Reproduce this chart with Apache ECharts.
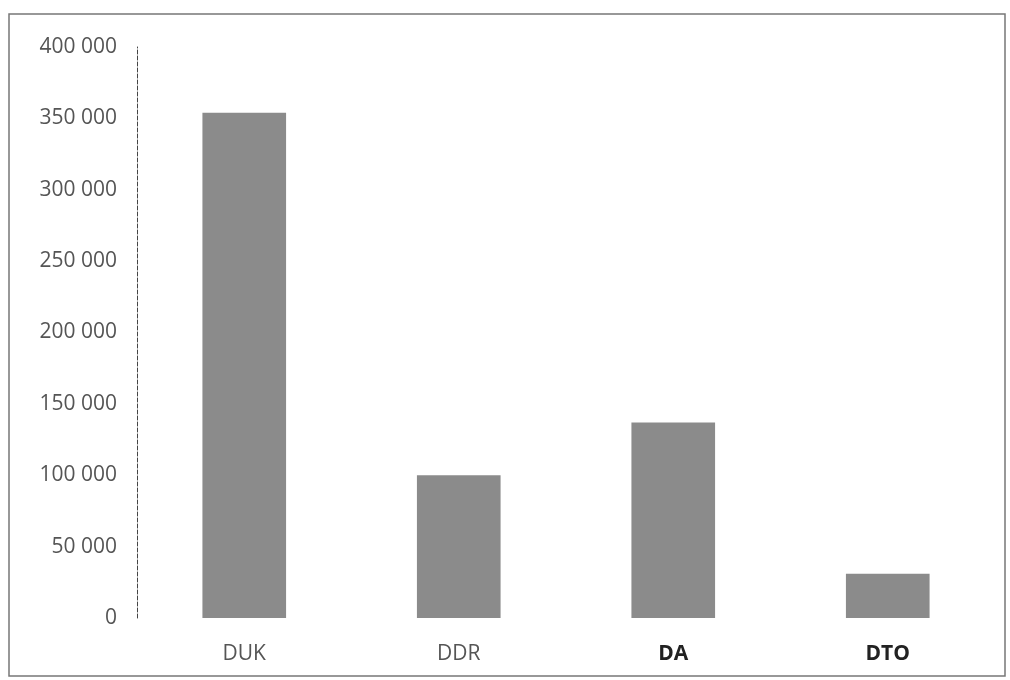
<!DOCTYPE html>
<html>
<head>
<meta charset="utf-8">
<script src="https://cdn.jsdelivr.net/npm/echarts@6/dist/echarts.min.js"></script>
<style>html,body{margin:0;padding:0;background:#fff}#c{width:1010px;height:680px}</style>
</head>
<body>
<div id="c"></div>
<script>
const categories = ['DUK', 'DDR', 'DA', 'DTO'];
const values = [354000, 100000, 137000, 31000];
const yTicks = [0, 50000, 100000, 150000, 200000, 250000, 300000, 350000, 400000];

const darkLabels = {DA: true, DTO: true};
const chart = echarts.init(document.getElementById('c'));
chart.setOption({
  backgroundColor: '#ffffff',
  animation: false,
  graphic: [{
    type: 'rect', shape: {x: 9, y: 14, width: 996, height: 662},
    style: {fill: 'none', stroke: '#777', lineWidth: 1.5}, silent: true
  }],
  grid: {left: 137, right: 15, top: 47, bottom: 62},
  xAxis: {
    type: 'category',
    data: categories.map(c => darkLabels[c]
      ? {value: c, textStyle: {color: '#222', fontWeight: 'bold'}}
      : c),
    axisLine: {show: false}, axisTick: {show: false},
    axisLabel: {margin: 26, fontSize: 21, color: '#555', fontFamily: 'Open Sans'}
  },
  yAxis: {
    type: 'value', min: yTicks[0], max: yTicks[yTicks.length - 1], interval: 50000,
    axisLine: {show: true, lineStyle: {color: '#444', type: 'dashed', width: 1}},
    axisTick: {show: false}, splitLine: {show: false},
    axisLabel: {
      margin: 20, fontSize: 21, color: '#555', fontFamily: 'Open Sans',
      formatter: v => String(v).replace(/\B(?=(\d{3})+(?!\d))/g, ' ')
    }
  },
  series: [{
    type: 'bar', data: values, barWidth: '39%',
    itemStyle: {color: '#8b8b8b'}
  }]
});
</script>
</body>
</html>
